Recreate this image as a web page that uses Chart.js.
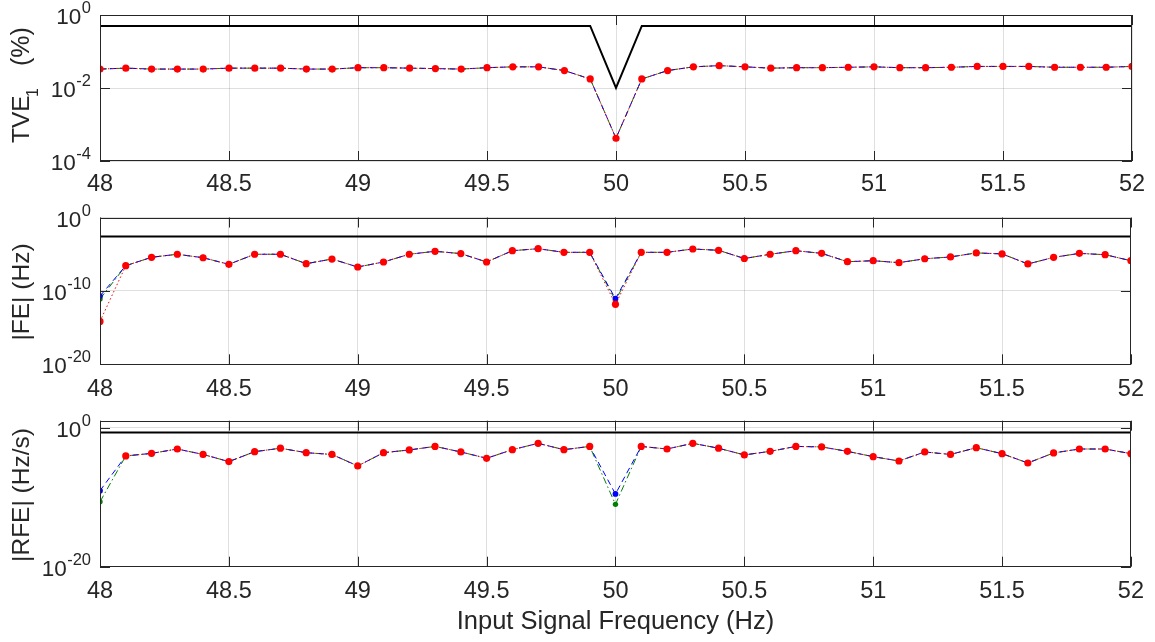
<!DOCTYPE html>
<html>
<head>
<meta charset="utf-8">
<script src="https://cdn.jsdelivr.net/npm/chart.js@4.4.1/dist/chart.umd.min.js"></script>
<style>
  html, body { margin: 0; padding: 0; background: #ffffff; }
  #wrap { position: relative; width: 1155px; height: 642px; overflow: hidden; background: #fff; }
  canvas { position: absolute; left: 0; }
</style>
</head>
<body>
<div id="wrap">
  <canvas id="c1" width="1155" height="200" style="top:0px"></canvas>
  <canvas id="c2" width="1155" height="200" style="top:200px"></canvas>
  <canvas id="c3" width="1155" height="242" style="top:400px"></canvas>
</div>
<script>
// ---------------- DATA ----------------
const freqs = [48.0,48.1,48.2,48.3,48.4,48.5,48.6,48.7,48.8,48.9,
               49.0,49.1,49.2,49.3,49.4,49.5,49.6,49.7,49.8,49.9,
               50.0,50.1,50.2,50.3,50.4,50.5,50.6,50.7,50.8,50.9,
               51.0,51.1,51.2,51.3,51.4,51.5,51.6,51.7,51.8,51.9,52.0];
const xTickValues = [48,48.5,49,49.5,50,50.5,51,51.5,52];

// TVE (%)
const tveLimit = [0.5,0.5,0.5,0.5,0.5,0.5,0.5,0.5,0.5,0.5,
                  0.5,0.5,0.5,0.5,0.5,0.5,0.5,0.5,0.5,0.5,
                  0.01,0.5,0.5,0.5,0.5,0.5,0.5,0.5,0.5,0.5,
                  0.5,0.5,0.5,0.5,0.5,0.5,0.5,0.5,0.5,0.5,0.5];
const tveGreen = [0.033,0.035,0.033,0.033,0.033,0.035,0.035,0.035,0.033,0.033,
                  0.036,0.036,0.035,0.034,0.033,0.036,0.038,0.038,0.030,0.0177,
                  0.00042,0.0177,0.030,0.038,0.041,0.038,0.035,0.036,0.036,0.037,
                  0.038,0.036,0.036,0.037,0.039,0.039,0.039,0.037,0.037,0.037,0.039];
const tveBlue  = [0.033,0.035,0.033,0.033,0.033,0.035,0.035,0.035,0.033,0.033,
                  0.036,0.036,0.035,0.034,0.033,0.036,0.038,0.038,0.030,0.0177,
                  0.00042,0.0177,0.030,0.038,0.041,0.038,0.035,0.036,0.036,0.037,
                  0.038,0.036,0.036,0.037,0.039,0.039,0.039,0.037,0.037,0.037,0.039];
const tveRed   = [0.033,0.035,0.033,0.033,0.033,0.035,0.035,0.035,0.033,0.033,
                  0.036,0.036,0.035,0.034,0.033,0.036,0.038,0.038,0.030,0.0177,
                  0.00042,0.0177,0.030,0.038,0.041,0.038,0.035,0.036,0.036,0.037,
                  0.038,0.036,0.036,0.037,0.039,0.039,0.039,0.037,0.037,0.037,0.039];
const tveTicks = [1e-4, 1e-2, 1e0];

// |FE| (Hz)
const feLimit = [0.0025,0.0025,0.0025,0.0025,0.0025,0.0025,0.0025,0.0025,0.0025,0.0025,
                 0.0025,0.0025,0.0025,0.0025,0.0025,0.0025,0.0025,0.0025,0.0025,0.0025,
                 0.0025,0.0025,0.0025,0.0025,0.0025,0.0025,0.0025,0.0025,0.0025,0.0025,
                 0.0025,0.0025,0.0025,0.0025,0.0025,0.0025,0.0025,0.0025,0.0025,0.0025,0.0025];
const feGreen = [7.9e-12,2.7e-7,3.8e-6,9.8e-6,3.3e-6,4.2e-7,9.8e-6,9.8e-6,5.1e-7,2.2e-6,
                 1.8e-7,8.7e-7,9.8e-6,2.5e-5,1.2e-5,8.7e-7,3.0e-5,5.6e-5,1.8e-5,1.8e-5,
                 5.0e-12,1.8e-5,1.8e-5,5.1e-5,3.4e-5,2.6e-6,9.8e-6,3.0e-5,1.3e-5,9.5e-7,
                 1.3e-6,7.0e-7,2.4e-6,4.2e-6,1.5e-5,1.1e-5,4.7e-7,3.7e-6,1.3e-5,8.5e-6,1.3e-6];
const feBlue  = [2.0e-11,2.7e-7,3.8e-6,9.8e-6,3.3e-6,4.2e-7,9.8e-6,9.8e-6,5.1e-7,2.2e-6,
                 1.8e-7,8.7e-7,9.8e-6,2.5e-5,1.2e-5,8.7e-7,3.0e-5,5.6e-5,1.8e-5,1.8e-5,
                 8.7e-12,1.8e-5,1.8e-5,5.1e-5,3.4e-5,2.6e-6,9.8e-6,3.0e-5,1.3e-5,9.5e-7,
                 1.3e-6,7.0e-7,2.4e-6,4.2e-6,1.5e-5,1.1e-5,4.7e-7,3.7e-6,1.3e-5,8.5e-6,1.3e-6];
const feRed   = [7.0e-15,2.7e-7,3.8e-6,9.8e-6,3.3e-6,4.2e-7,9.8e-6,9.8e-6,5.1e-7,2.2e-6,
                 1.8e-7,8.7e-7,9.8e-6,2.5e-5,1.2e-5,8.7e-7,3.0e-5,5.6e-5,1.8e-5,1.8e-5,
                 1.5e-12,1.8e-5,1.8e-5,5.1e-5,3.4e-5,2.6e-6,9.8e-6,3.0e-5,1.3e-5,9.5e-7,
                 1.3e-6,7.0e-7,2.4e-6,4.2e-6,1.5e-5,1.1e-5,4.7e-7,3.7e-6,1.3e-5,8.5e-6,1.3e-6];
const feTicks = [1e-20, 1e-10, 1e0];

// |RFE| (Hz/s)
const rfeLimit = [0.2,0.2,0.2,0.2,0.2,0.2,0.2,0.2,0.2,0.2,
                  0.2,0.2,0.2,0.2,0.2,0.2,0.2,0.2,0.2,0.2,
                  0.2,0.2,0.2,0.2,0.2,0.2,0.2,0.2,0.2,0.2,
                  0.2,0.2,0.2,0.2,0.2,0.2,0.2,0.2,0.2,0.2,0.2];
const rfeGreen = [2.2e-11,8.5e-5,2.0e-4,8.5e-4,1.4e-4,1.3e-5,3.5e-4,1.1e-3,2.5e-4,1.4e-4,
                  3.1e-6,2.5e-4,6.2e-4,2.0e-3,3.2e-4,3.9e-5,6.8e-4,5.6e-3,6.8e-4,2.0e-3,
                  9.3e-12,2.0e-3,8.5e-4,5.6e-3,1.1e-3,1.2e-4,3.9e-4,2.0e-3,1.7e-3,3.9e-4,
                  6.7e-5,1.6e-5,3.2e-4,1.4e-4,1.3e-3,1.8e-4,8.3e-6,2.3e-4,8.5e-4,8.5e-4,1.8e-4];
const rfeBlue  = [8.7e-10,8.5e-5,2.0e-4,8.5e-4,1.4e-4,1.3e-5,3.5e-4,1.1e-3,2.5e-4,1.4e-4,
                  3.1e-6,2.5e-4,6.2e-4,2.0e-3,3.2e-4,3.9e-5,6.8e-4,5.6e-3,6.8e-4,2.0e-3,
                  2.9e-10,2.0e-3,8.5e-4,5.6e-3,1.1e-3,1.2e-4,3.9e-4,2.0e-3,1.7e-3,3.9e-4,
                  6.7e-5,1.6e-5,3.2e-4,1.4e-4,1.3e-3,1.8e-4,8.3e-6,2.3e-4,8.5e-4,8.5e-4,1.8e-4];
const rfeRed   = [null,8.5e-5,2.0e-4,8.5e-4,1.4e-4,1.3e-5,3.5e-4,1.1e-3,2.5e-4,1.4e-4,
                  3.1e-6,2.5e-4,6.2e-4,2.0e-3,3.2e-4,3.9e-5,6.8e-4,5.6e-3,6.8e-4,2.0e-3,
                  null,2.0e-3,8.5e-4,5.6e-3,1.1e-3,1.2e-4,3.9e-4,2.0e-3,1.7e-3,3.9e-4,
                  6.7e-5,1.6e-5,3.2e-4,1.4e-4,1.3e-3,1.8e-4,8.3e-6,2.3e-4,8.5e-4,8.5e-4,1.8e-4];
const rfeTicks = [1e-20, 1e0];

const xTitle = 'Input Signal Frequency (Hz)';

// ---------------- RENDERING ----------------
const FONT = '"Liberation Sans", Arial, Helvetica, sans-serif';
const TXT = '#262626';
const GRID = 'rgba(38,38,38,0.15)';

function pts(vals) { return freqs.map((f, i) => ({ x: f, y: vals[i] })); }

function datasets(limit, g, b, r) {
  return [
    { data: pts(limit), borderColor: '#000000', borderWidth: 2, pointRadius: 0, order: 3 },
    { data: pts(g), borderColor: '#008000', borderWidth: 1, borderDash: [7, 3, 1.5, 3],
      pointRadius: 2.7, pointBackgroundColor: '#008000', pointBorderWidth: 0, order: 2 },
    { data: pts(b), borderColor: '#0000ff', borderWidth: 1, borderDash: [6, 4],
      pointRadius: 2.9, pointBackgroundColor: '#0000ff', pointBorderWidth: 0, order: 1 },
    { data: pts(r), borderColor: '#ff0000', borderWidth: 1, borderDash: [1.5, 2.5],
      pointRadius: 3.6, pointBackgroundColor: '#ff0000', pointBorderWidth: 0, order: 0 }
  ];
}

// titleParts: each {t, s (font px), y (screen y where the part starts, text runs upward), dy}
function decoPlugin(titleParts, titleX) {
  return {
    id: 'deco',
    afterDraw(chart) {
      const { ctx, chartArea: a, scales: { x, y } } = chart;
      ctx.save();
      ctx.strokeStyle = TXT;
      ctx.lineWidth = 1;
      ctx.strokeRect(Math.round(a.left) + 0.5, Math.round(a.top) + 0.5,
                     Math.round(a.right - a.left) - 1, Math.round(a.bottom - a.top) - 1);
      const tl = 10;
      ctx.beginPath();
      x.ticks.forEach(t => {
        const px = Math.round(x.getPixelForValue(t.value)) + 0.5;
        ctx.moveTo(px, a.bottom); ctx.lineTo(px, a.bottom - tl);
        ctx.moveTo(px, a.top); ctx.lineTo(px, a.top + tl);
      });
      y.ticks.forEach(t => {
        const py = Math.round(y.getPixelForValue(t.value)) + 0.5;
        ctx.moveTo(a.left, py); ctx.lineTo(a.left + tl, py);
        ctx.moveTo(a.right, py); ctx.lineTo(a.right - tl, py);
      });
      ctx.stroke();
      // y tick labels 10^n
      ctx.fillStyle = TXT;
      ctx.textAlign = 'right';
      ctx.textBaseline = 'alphabetic';
      y.ticks.forEach(t => {
        const py = y.getPixelForValue(t.value);
        const e = String(Math.round(Math.log10(t.value)));
        ctx.font = '16.5px ' + FONT;
        const ew = ctx.measureText(e).width;
        const rx = a.left - 9;
        ctx.fillText(e, rx, py - 2);
        ctx.font = '22.5px ' + FONT;
        ctx.fillText('10', rx - ew - 0.5, py + 9);
      });
      // y title (rotated, reads bottom to top)
      ctx.translate(titleX, 0);
      ctx.rotate(-Math.PI / 2);
      ctx.textAlign = 'left';
      titleParts.forEach(p => {
        ctx.font = p.s + 'px ' + FONT;
        let start = p.y;
        if (p.center !== undefined) start = p.center + ctx.measureText(p.t).width / 2;
        ctx.fillText(p.t, -start, p.dy || 0);
      });
      ctx.restore();
    }
  };
}

function makeChart(id, ds, yMin, yMax, yTicks, padTop, xAxisH, xPad, titleParts, titleX, showXTitle) {
  return new Chart(document.getElementById(id), {
    type: 'line',
    data: { datasets: ds },
    options: {
      responsive: false, animation: false, devicePixelRatio: 1,
      layout: { padding: { top: padTop, right: 23, left: 0, bottom: 0 } },
      plugins: { legend: { display: false }, tooltip: { enabled: false } },
      elements: { line: { tension: 0 } },
      spanGaps: false,
      scales: {
        x: {
          type: 'linear', min: 48, max: 52,
          afterBuildTicks: s => { s.ticks = xTickValues.map(v => ({ value: v })); },
          ticks: { font: { size: 23.5, family: FONT }, color: TXT, padding: xPad, maxRotation: 0, autoSkip: false,
                   callback: v => String(v) },
          grid: { color: GRID, drawTicks: false, lineWidth: 1 },
          border: { display: false },
          title: { display: showXTitle, text: xTitle, color: TXT, font: { size: 25.5, family: FONT },
                   padding: { top: 0, bottom: 5 } },
          afterFit: s => { s.height = xAxisH; }
        },
        y: {
          type: 'logarithmic', min: yMin, max: yMax,
          afterBuildTicks: s => { s.ticks = yTicks.map(v => ({ value: v })); },
          ticks: { display: false },
          grid: { color: GRID, drawTicks: false, lineWidth: 1 },
          border: { display: false },
          afterFit: s => { s.width = 100; }
        }
      }
    },
    plugins: [decoPlugin(titleParts, titleX)]
  });
}

makeChart('c1', datasets(tveLimit, tveGreen, tveBlue, tveRed), 1e-4, 1e0, tveTicks, 15, 39, 9.5,
  [{ t: 'TVE', s: 24.5, y: 143 }, { t: '1', s: 16, y: 97, dy: 9 }, { t: '(%)', s: 25, y: 66 }], 29, false);
makeChart('c2', datasets(feLimit, feGreen, feBlue, feRed), 1e-20, 1e0, feTicks, 17.5, 35.7, 11,
  [{ t: '|FE| (Hz)', s: 24.5, center: 92 }], 29, false);
makeChart('c3', datasets(rfeLimit, rfeGreen, rfeBlue, rfeRed), 1e-20, 1e1, rfeTicks, 20.7, 75.3, 11,
  [{ t: '|RFE| (Hz/s)', s: 24.5, center: 95 }], 29, true);
</script>
</body>
</html>
